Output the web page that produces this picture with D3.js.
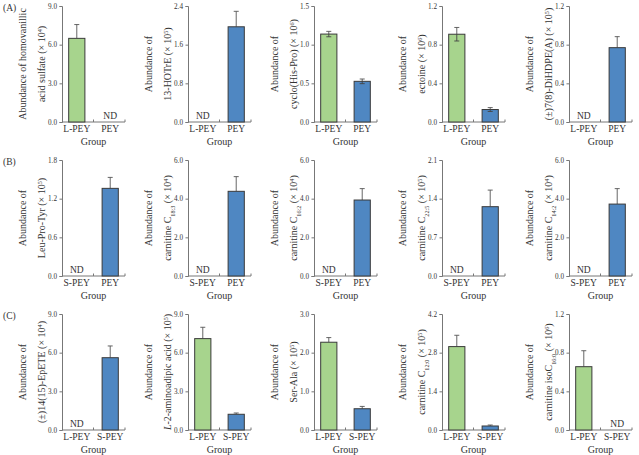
<!DOCTYPE html>
<html>
<head>
<meta charset="utf-8">
<script src="https://cdn.jsdelivr.net/npm/d3@7"></script>
<style>
  body { margin: 0; background: #fff; }
  svg text { font-family: "Liberation Serif", "DejaVu Serif", serif; fill: #333; }
</style>
</head>
<body>
<div id="chart"></div>
<script>
// groups per row
const rowGroups = [
    ["L-PEY", "PEY"],
    ["S-PEY", "PEY"],
    ["L-PEY", "S-PEY"],
];
const rowLetters = ["(A)", "(B)", "(C)"];

// y-axis titles, two lines each (^ = superscript, _ = subscript, * = italic)
const yTitles = [
    ["Abundance of homovanillic", "acid sulfate (× 10^{4})"],
    ["Abundance of", "13-HOTrE (× 10^{5})"],
    ["Abundance of", "cyclo(His-Pro) (× 10^{6})"],
    ["Abundance of", "ectoine (× 10^{6})"],
    ["Abundance of", "(±)7(8)-DiHDPE(A) (× 10^{5})"],
    ["Abundance of", "Leu-Pro-Tyr (× 10^{5})"],
    ["Abundance of", "carnitine C_{18:3} (× 10^{4})"],
    ["Abundance of", "carnitine C_{16:2} (× 10^{4})"],
    ["Abundance of", "carnitine C_{22:5} (× 10^{5})"],
    ["Abundance of", "carnitine C_{14:2} (× 10^{4})"],
    ["Abundance of", "(±)14(15)-EpETE (× 10^{4})"],
    ["Abundance of", "*L*-2-aminoadipic acid (× 10^{5})"],
    ["Abundance of", "Ser-Ala (× 10^{5})"],
    ["Abundance of", "carnitine C_{12:0} (× 10^{5})"],
    ["Abundance of", "carnitine isoC_{16:0} (× 10^{6})"],
];

const yTicks = [
    ["0.0", "3.0", "6.0", "9.0"],
    ["0.0", "0.8", "1.6", "2.4"],
    ["0.0", "0.5", "1.0", "1.5"],
    ["0.0", "0.4", "0.8", "1.2"],
    ["0.0", "0.4", "0.8", "1.2"],
    ["0.0", "0.6", "1.2", "1.8"],
    ["0.0", "2.0", "4.0", "6.0"],
    ["0.0", "2.0", "4.0", "6.0"],
    ["0.0", "0.7", "1.4", "2.1"],
    ["0.0", "2.0", "4.0", "6.0"],
    ["0.0", "3.0", "6.0", "9.0"],
    ["0.0", "3.0", "6.0", "9.0"],
    ["0.0", "1.0", "2.0", "3.0"],
    ["0.0", "1.4", "2.8", "4.2"],
    ["0.0", "0.4", "0.8", "1.2"],
];

// means (null = ND) and SD for the first and second group of each panel
const firstMean = [6.49, null, 1.137, 0.908, null, null, null, null, null, null, null, 7.09, 2.27, 3.02, 0.655];
const firstErr = [1.07, 0, 0.035, 0.07, 0, 0, 0, 0, 0, 0, 0, 0.88, 0.12, 0.41, 0.165];
const secondMean = [null, 1.97, 0.526, 0.129, 0.769, 1.36, 4.38, 3.93, 1.255, 3.72, 5.61, 1.22, 0.55, 0.145, null];
const secondErr = [0, 0.32, 0.03, 0.02, 0.114, 0.17, 0.76, 0.59, 0.30, 0.80, 0.91, 0.1, 0.06, 0.035, 0];
// panels whose error bars run both ways
const twoSided = [false, false, true, true, false, false, false, false, false, false, false, false, false, false, false];

const colors = { first: "#a7d48d", second: "#4f87c2" };

const W = 639, H = 455;
const axisX = [62, 188, 314, 442, 569];
const rowTop = [6, 160, 314];
const plotH = 116, plotW = 63;

const svg = d3.select("#chart").append("svg")
    .attr("width", W).attr("height", H);

// write text with ^{sup}, _{sub}, *italic* markup into tspans
function richText(sel, str, size) {
    const re = /(\^\{[^}]*\}|_\{[^}]*\}|\*[^*]*\*)/;
    str.split(re).filter((s) => s.length).forEach((part) => {
        if (part.startsWith("^{")) {
            sel.append("tspan").attr("baseline-shift", "super")
                .style("font-size", `${size * 0.62}px`).text(part.slice(2, -1));
        } else if (part.startsWith("_{")) {
            sel.append("tspan").attr("baseline-shift", "sub")
                .style("font-size", `${size * 0.62}px`).text(part.slice(2, -1));
        } else if (part.startsWith("*")) {
            sel.append("tspan").style("font-style", "italic").text(part.slice(1, -1));
        } else {
            sel.append("tspan").text(part);
        }
    });
}

rowLetters.forEach((l, r) => {
    svg.append("text")
        .attr("x", 3).attr("y", rowTop[r] + 5)
        .style("font-size", "9.5px")
        .text(l);
});

for (let i = 0; i < 15; i++) {
    const row = Math.floor(i / 5), col = i % 5;
    const groups = rowGroups[row];
    const ticks = yTicks[i].map(Number);

    const g = svg.append("g")
        .attr("transform", `translate(${axisX[col]}, ${rowTop[row]})`);

    const x = d3.scaleBand().domain(groups).range([0, plotW])
        .paddingInner(0.515).paddingOuter(0.2);
    const y = d3.scaleLinear().domain([0, ticks[ticks.length - 1]]).range([plotH, 0]);

    const yAxis = g.append("g")
        .call(d3.axisLeft(y).tickValues(ticks).tickFormat((d, k) => yTicks[i][k])
            .tickSize(2.5).tickPadding(2.5));
    yAxis.selectAll("line, path").attr("stroke", "#777");
    yAxis.selectAll("text").style("font-size", "7.2px").attr("fill", "#333")
        .style("font-family", "'Liberation Serif', serif");

    // x axis baseline with inward ticks at middle and end
    const xa = g.append("g").attr("transform", `translate(0, ${plotH})`);
    xa.append("line").attr("x1", 0).attr("x2", plotW).attr("stroke", "#777");
    [plotW / 2, plotW].forEach((t) => {
        xa.append("line").attr("x1", t).attr("x2", t).attr("y1", 0).attr("y2", -2.5)
            .attr("stroke", "#777");
    });
    groups.forEach((grp) => {
        xa.append("text")
            .attr("x", x(grp) + x.bandwidth() / 2).attr("y", 10)
            .attr("text-anchor", "middle").style("font-size", "9.5px")
            .text(grp);
    });
    xa.append("text")
        .attr("x", plotW / 2).attr("y", 23)
        .attr("text-anchor", "middle").style("font-size", "10px")
        .text("Group");

    const bars = [
        { grp: groups[0], v: firstMean[i], e: firstErr[i], c: colors.first },
        { grp: groups[1], v: secondMean[i], e: secondErr[i], c: colors.second },
    ];
    bars.forEach((b) => {
        const cx = x(b.grp) + x.bandwidth() / 2;
        if (b.v === null) {
            g.append("text")
                .attr("x", cx).attr("y", plotH - 3)
                .attr("text-anchor", "middle").style("font-size", "9.5px")
                .text("ND");
            return;
        }
        const lo = twoSided[i] ? b.v - b.e : b.v;
        g.append("line")
            .attr("x1", cx).attr("x2", cx)
            .attr("y1", y(lo)).attr("y2", y(b.v + b.e))
            .attr("stroke", "#555").attr("stroke-width", 0.9);
        [b.v + b.e].concat(twoSided[i] ? [b.v - b.e] : []).forEach((yy) => {
            g.append("line")
                .attr("x1", cx - 2.5).attr("x2", cx + 2.5)
                .attr("y1", y(yy)).attr("y2", y(yy))
                .attr("stroke", "#555").attr("stroke-width", 0.9);
        });
        g.append("rect")
            .attr("x", x(b.grp)).attr("width", x.bandwidth())
            .attr("y", y(b.v)).attr("height", plotH - y(b.v))
            .attr("fill", b.c)
            .attr("stroke", "#3a3a3a").attr("stroke-width", 1);
        if (twoSided[i]) {
            g.append("line")
                .attr("x1", cx).attr("x2", cx)
                .attr("y1", y(b.v - b.e)).attr("y2", y(b.v))
                .attr("stroke", "#444").attr("stroke-width", 0.9);
            g.append("line")
                .attr("x1", cx - 2.5).attr("x2", cx + 2.5)
                .attr("y1", y(b.v - b.e)).attr("y2", y(b.v - b.e))
                .attr("stroke", "#444").attr("stroke-width", 0.9);
        }
    });

    // two-line rotated y title, x = baseline position
    const midY = plotH / 2;
    yTitles[i].forEach((line, k) => {
        const t = g.append("text")
            .attr("transform", `translate(${k === 0 ? -36 : -17.5}, ${midY}) rotate(-90)`)
            .attr("text-anchor", "middle")
            .style("font-size", "10px");
        richText(t, line, 10);
    });
}
</script>
</body>
</html>
